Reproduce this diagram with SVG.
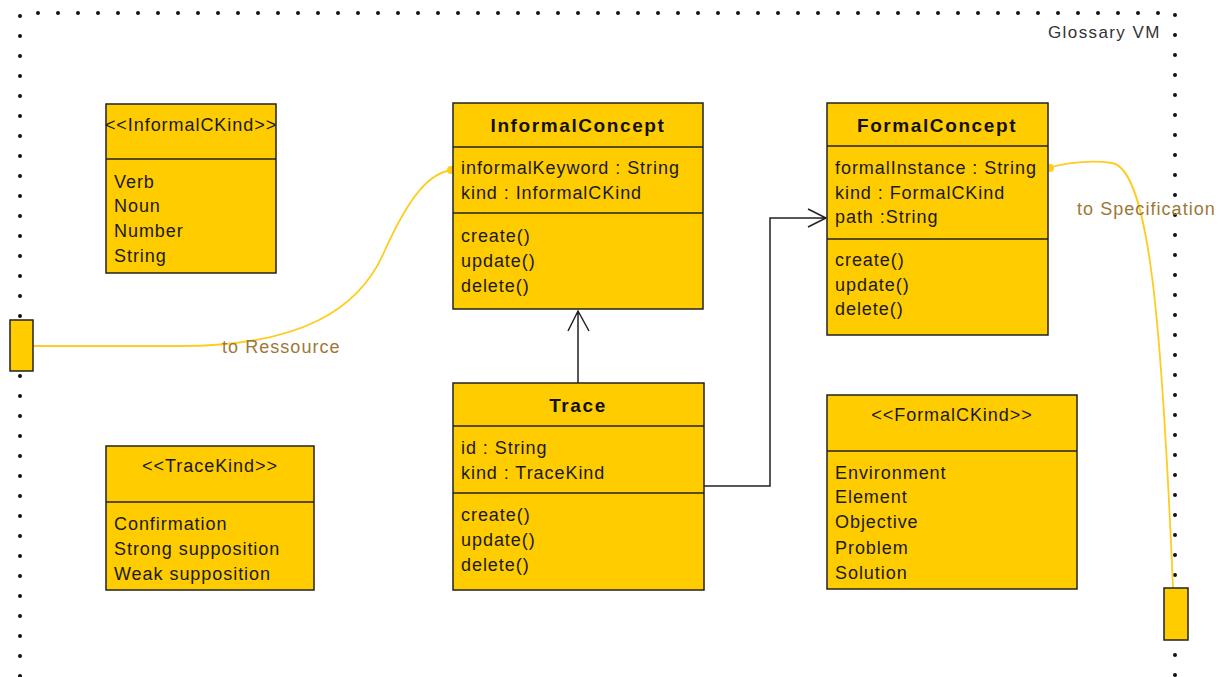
<svg xmlns="http://www.w3.org/2000/svg" width="1222" height="677" viewBox="0 0 1222 677">
<style>
.box{fill:#FFCC00;stroke:#222;stroke-width:1.5}
.div{stroke:#222;stroke-width:1.5}
.t{font-family:"Liberation Sans",Arial,sans-serif;font-size:18px;letter-spacing:0.95px;fill:#1a1a1a}
.b{font-family:"Liberation Sans",Arial,sans-serif;font-size:19px;letter-spacing:1.6px;font-weight:bold;fill:#111;text-anchor:middle}
.c{text-anchor:middle}
.frame{fill:none;stroke:#111;stroke-width:4;stroke-linecap:round;stroke-dasharray:0 20}
.lbl{font-family:"Liberation Sans",Arial,sans-serif;font-size:18px;letter-spacing:1.05px;fill:#9C7838}
.yl{fill:none;stroke:#FFCC22;stroke-width:1.8}
.ar{fill:none;stroke:#222;stroke-width:1.5}
</style>
<rect width="1222" height="677" fill="#fff"/>
<g id="frame">
<path class="frame" d="M38,13 H1160"/>
<path class="frame" d="M20,16 V680"/>
<path class="frame" d="M1175,15 V680"/>
<text x="1048" y="38" font-family="Liberation Sans,Arial,sans-serif" font-size="17" letter-spacing="1.4" fill="#333">Glossary VM</text>
</g>
<g id="connectors">
<path class="ar" d="M578,383 V311 M568,331 L578,311 L589,331"/>
<path class="ar" d="M704,486 H770 V218 H826 M808,209 L826,218 L808,227"/>
<path class="yl" d="M33,346 L180,346 C300,346 360,310 385,250 C410,195 430,172 453,170"/>
<circle cx="451" cy="170" r="4" fill="#FFCC22"/>
<path class="yl" d="M1048,168 C1070,162 1090,160 1112,163 C1150,170 1162,330 1173,588"/>
<circle cx="1050" cy="168" r="4" fill="#FFCC22"/>
<text class="lbl" x="222" y="353">to Ressource</text>
<text class="lbl" x="1077" y="215">to Specification</text>
</g>
<g id="InformalCKind">
<rect class="box" x="106" y="104" width="170" height="169"/>
<line class="div" x1="106" y1="159" x2="276" y2="159"/>
<text class="t c" x="191" y="131">&lt;&lt;InformalCKind&gt;&gt;</text>
<text class="t" x="114" y="188">Verb</text>
<text class="t" x="114" y="212">Noun</text>
<text class="t" x="114" y="237">Number</text>
<text class="t" x="114" y="262">String</text>
</g>
<g id="InformalConcept">
<rect class="box" x="453" y="103" width="250" height="206"/>
<line class="div" x1="453" y1="147" x2="703" y2="147"/>
<line class="div" x1="453" y1="213" x2="703" y2="213"/>
<text class="b" x="578" y="132">InformalConcept</text>
<text class="t" x="461" y="174">informalKeyword : String</text>
<text class="t" x="461" y="199">kind : InformalCKind</text>
<text class="t" x="461" y="242">create()</text>
<text class="t" x="461" y="267">update()</text>
<text class="t" x="461" y="292">delete()</text>
</g>
<g id="FormalConcept">
<rect class="box" x="827" y="103" width="221" height="232"/>
<line class="div" x1="827" y1="146" x2="1048" y2="146"/>
<line class="div" x1="827" y1="239" x2="1048" y2="239"/>
<text class="b" x="937" y="132">FormalConcept</text>
<text class="t" x="835" y="174">formalInstance : String</text>
<text class="t" x="835" y="199">kind : FormalCKind</text>
<text class="t" x="835" y="223">path :String</text>
<text class="t" x="835" y="266">create()</text>
<text class="t" x="835" y="291">update()</text>
<text class="t" x="835" y="315">delete()</text>
</g>
<g id="Trace">
<rect class="box" x="453" y="383" width="251" height="207"/>
<line class="div" x1="453" y1="426" x2="704" y2="426"/>
<line class="div" x1="453" y1="493" x2="704" y2="493"/>
<text class="b" x="578" y="412">Trace</text>
<text class="t" x="461" y="454">id : String</text>
<text class="t" x="461" y="479">kind : TraceKind</text>
<text class="t" x="461" y="521">create()</text>
<text class="t" x="461" y="546">update()</text>
<text class="t" x="461" y="571">delete()</text>
</g>
<g id="FormalCKind">
<rect class="box" x="827" y="395" width="250" height="194"/>
<line class="div" x1="827" y1="451" x2="1077" y2="451"/>
<text class="t c" x="952" y="421">&lt;&lt;FormalCKind&gt;&gt;</text>
<text class="t" x="835" y="479">Environment</text>
<text class="t" x="835" y="503">Element</text>
<text class="t" x="835" y="528">Objective</text>
<text class="t" x="835" y="554">Problem</text>
<text class="t" x="835" y="579">Solution</text>
</g>
<g id="TraceKind">
<rect class="box" x="106" y="446" width="208" height="144"/>
<line class="div" x1="106" y1="502" x2="314" y2="502"/>
<text class="t c" x="210" y="472">&lt;&lt;TraceKind&gt;&gt;</text>
<text class="t" x="114" y="530">Confirmation</text>
<text class="t" x="114" y="555">Strong supposition</text>
<text class="t" x="114" y="580">Weak supposition</text>
</g>
<g id="portLeft">
<rect class="box" x="10" y="320" width="23" height="51"/>
</g>
<g id="portRight">
<rect class="box" x="1164" y="588" width="24" height="52"/>
</g>
</svg>
